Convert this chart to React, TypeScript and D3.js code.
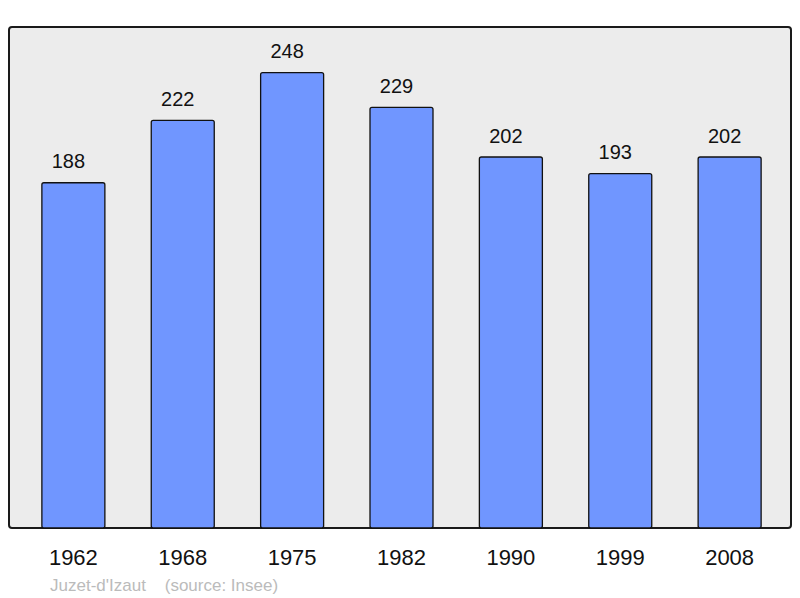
import { useEffect, useRef } from 'react';
import * as d3 from 'd3';

const years = ['1962', '1968', '1975', '1982', '1990', '1999', '2008'];
const population = [188, 222, 248, 229, 202, 193, 202];
const commune = "Juzet-d'Izaut";
const source = '(source: Insee)';

export default function App() {
  const svgRef = useRef<SVGSVGElement>(null);

  useEffect(() => {
    if (!svgRef.current) return;
    const svg = d3.select(svgRef.current);
    svg.selectAll('*').remove();

    const width = 800;
    const height = 598;
    const frame = { left: 9, top: 27, right: 791, bottom: 528 };
    const font = '"Liberation Sans", Arial, sans-serif';

    const x = d3.scaleBand<string>()
      .domain(years)
      .range([20, 783])
      .paddingInner(0.424)
      .paddingOuter(0.2);

    const y = d3.scaleLinear()
      .domain([0, d3.max(population)! * 1.1])
      .range([frame.bottom, frame.top]);

    svg.attr('width', width).attr('height', height);

    // background frame
    svg.append('rect')
      .attr('x', frame.left)
      .attr('y', frame.top)
      .attr('width', frame.right - frame.left)
      .attr('height', frame.bottom - frame.top)
      .attr('rx', 3)
      .attr('fill', '#ececec')
      .attr('stroke', '#1a1a1a')
      .attr('stroke-width', 2);

    // bars
    svg.append('g')
      .selectAll('rect')
      .data(population)
      .join('rect')
      .attr('x', (_, i) => x(years[i])!)
      .attr('y', d => y(d))
      .attr('width', x.bandwidth())
      .attr('height', d => y(0) - y(d))
      .attr('rx', 2)
      .attr('fill', '#7096ff')
      .attr('stroke', '#111')
      .attr('stroke-width', 1.3);

    // value labels (sit a little left of the bar centre, as in the original)
    svg.append('g')
      .selectAll('text')
      .data(population)
      .join('text')
      .attr('x', (_, i) => x(years[i])! + x.bandwidth() / 2 - 5)
      .attr('y', d => y(d) - 14.5)
      .attr('text-anchor', 'middle')
      .attr('font-family', font)
      .attr('font-size', 20)
      .attr('fill', '#111')
      .text(d => d);

    // year labels
    svg.append('g')
      .selectAll('text')
      .data(years)
      .join('text')
      .attr('x', d => x(d)! + x.bandwidth() / 2)
      .attr('y', 564.5)
      .attr('text-anchor', 'middle')
      .attr('font-family', font)
      .attr('font-size', 22)
      .attr('fill', '#111')
      .text(d => d);

    // source line
    svg.append('text')
      .attr('x', 50)
      .attr('y', 590.5)
      .attr('font-family', font)
      .attr('font-size', 17)
      .attr('fill', '#bbbbbb')
      .attr('xml:space', 'preserve')
      .style('white-space', 'pre')
      .text(`${commune}    ${source}`);
  }, []);

  return <svg ref={svgRef} style={{ position: 'absolute', left: 0, top: 0 }} />;
}
